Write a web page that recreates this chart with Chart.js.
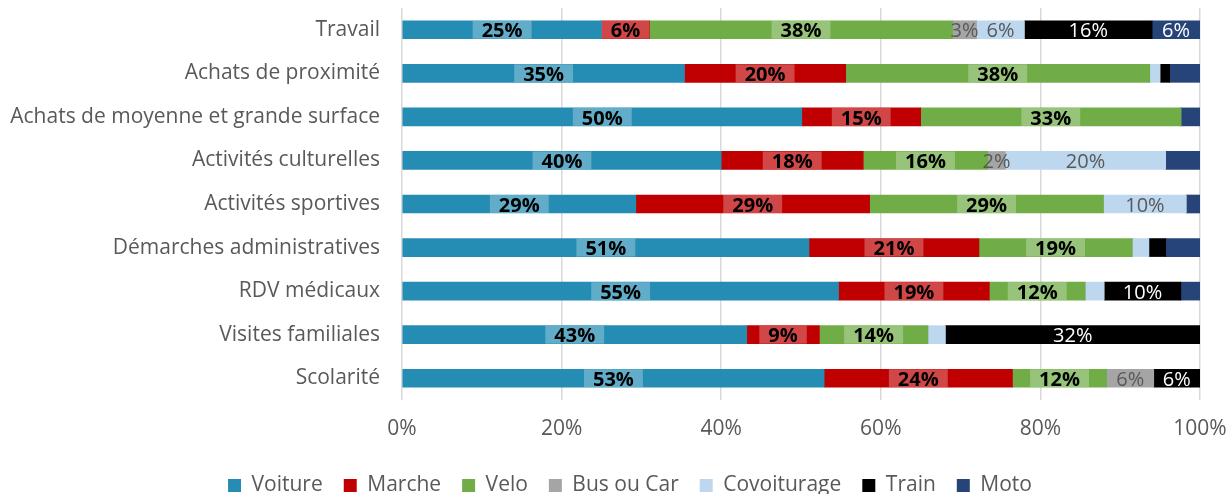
<!DOCTYPE html>
<html lang="fr">
<head>
<meta charset="utf-8">
<title>Modes de déplacement par motif</title>
<script src="https://cdn.jsdelivr.net/npm/chart.js@4/dist/chart.umd.min.js"></script>
<style>
  html, body { margin: 0; padding: 0; background: #fff; }
  #wrap { width: 1230px; height: 494px; }
</style>
</head>
<body>
<div id="wrap"><canvas id="chart"></canvas></div>
<script>
const motifs = [
  'Travail',
  'Achats de proximité',
  'Achats de moyenne et grande surface',
  'Activités culturelles',
  'Activités sportives',
  'Démarches administratives',
  'RDV médicaux',
  'Visites familiales',
  'Scolarité'
];

// part de chaque mode, en %
const voiture     = [25, 35.4, 50.1, 40.0, 29.3, 51.0, 54.7, 43.2, 52.9];
const marche      = [6, 20.2, 14.9, 17.8, 29.3, 21.3, 18.9, 9.1, 23.6];
const velo        = [38, 38.1, 32.6, 15.6, 29.3, 19.2, 12.0, 13.6, 11.8];
const busOuCar    = [3, 0, 0, 2.2, 0, 0, 0, 0, 5.9];
const covoiturage = [6, 1.3, 0, 20.1, 10.4, 2.1, 2.4, 2.2, 0];
const train       = [16, 1.2, 0, 0, 0, 2.1, 9.6, 31.9, 5.8];
const moto        = [6, 3.8, 2.4, 4.3, 1.7, 4.3, 2.4, 0, 0];

const xTicks = [0, 20, 40, 60, 80, 100];

const FONT = '"Open Sans", "Liberation Sans", sans-serif';
const GREY = '#595959';

// étiquettes : boite claire + gras pour les trois premiers modes
const series = [
  { label: 'Voiture',     data: voiture,     color: '#258cb4', text: '#000', bold: true,  min: 0.5 },
  { label: 'Marche',      data: marche,      color: '#c00000', text: '#000', bold: true,  min: 0.5 },
  { label: 'Velo',        data: velo,        color: '#70ad47', text: '#000', bold: true,  min: 0.5 },
  { label: 'Bus ou Car',  data: busOuCar,    color: '#a5a5a5', text: GREY,   bold: false, min: 0.5 },
  { label: 'Covoiturage', data: covoiturage, color: '#bdd7ee', text: GREY,   bold: false, min: 5 },
  { label: 'Train',       data: train,       color: '#000000', text: '#fff', bold: false, min: 5 },
  { label: 'Moto',        data: moto,        color: '#264478', text: '#fff', bold: false, min: 5 }
];

const valueLabels = {
  id: 'valueLabels',
  afterDatasetsDraw(chart) {
    const ctx = chart.ctx;
    ctx.save();
    ctx.textAlign = 'center';
    ctx.textBaseline = 'middle';
    series.forEach((s, di) => {
      const meta = chart.getDatasetMeta(di);
      meta.data.forEach((bar, i) => {
        const v = s.data[i];
        if (v < s.min) return;
        const txt = Math.round(v) + '%';
        const cx = (bar.x + bar.base) / 2;
        ctx.font = (s.bold ? 'bold ' : '') + '20px ' + FONT;
        if (s.bold) {
          const w = ctx.measureText(txt).width + 18;
          ctx.fillStyle = 'rgba(255,255,255,0.28)';
          ctx.fillRect(cx - w / 2, bar.y - bar.height / 2, w, bar.height);
        }
        ctx.fillStyle = s.text;
        ctx.fillText(txt, cx, bar.y + 2);
      });
    });
    ctx.restore();
  }
};

// décale la légende vers la droite
const legendShift = {
  id: 'legendShift',
  afterLayout(chart) {
    chart.legend.left += 30;
    chart.legend.right += 30;
  }
};

new Chart(document.getElementById('chart'), {
  type: 'bar',
  data: {
    labels: motifs,
    datasets: series.map(s => ({
      label: s.label,
      data: s.data,
      backgroundColor: s.color,
      borderWidth: 0,
      barThickness: 18
    }))
  },
  options: {
    indexAxis: 'y',
    responsive: true,
    maintainAspectRatio: false,
    animation: false,
    layout: {
      autoPadding: false,
      padding: { top: 8, right: 30, bottom: -12, left: 0 }
    },
    scales: {
      x: {
        stacked: true,
        min: 0,
        max: 100,
        afterBuildTicks(scale) {
          scale.ticks = xTicks.map(v => ({ value: v }));
        },
        afterFit(scale) {
          scale.height = 54;
          scale.paddingLeft = 0;
          scale.paddingRight = 0;
        },
        ticks: {
          callback: v => v + '%',
          color: GREY,
          font: { family: FONT, size: 21 },
          padding: 16
        },
        grid: { color: '#d9d9d9', lineWidth: 1.5, drawTicks: false },
        border: { display: false }
      },
      y: {
        stacked: true,
        afterFit(scale) {
          scale.width = 402;
          scale.paddingTop = 0;
          scale.paddingBottom = 0;
        },
        ticks: {
          color: GREY,
          font: { family: FONT, size: 21 },
          padding: 22
        },
        grid: { display: false, drawTicks: false },
        border: { display: false }
      }
    },
    plugins: {
      legend: {
        position: 'bottom',
        labels: {
          color: GREY,
          font: { family: FONT, size: 21 },
          boxWidth: 13,
          boxHeight: 13,
          padding: 21
        }
      },
      tooltip: { enabled: false }
    }
  },
  plugins: [valueLabels, legendShift]
});
</script>
</body>
</html>
